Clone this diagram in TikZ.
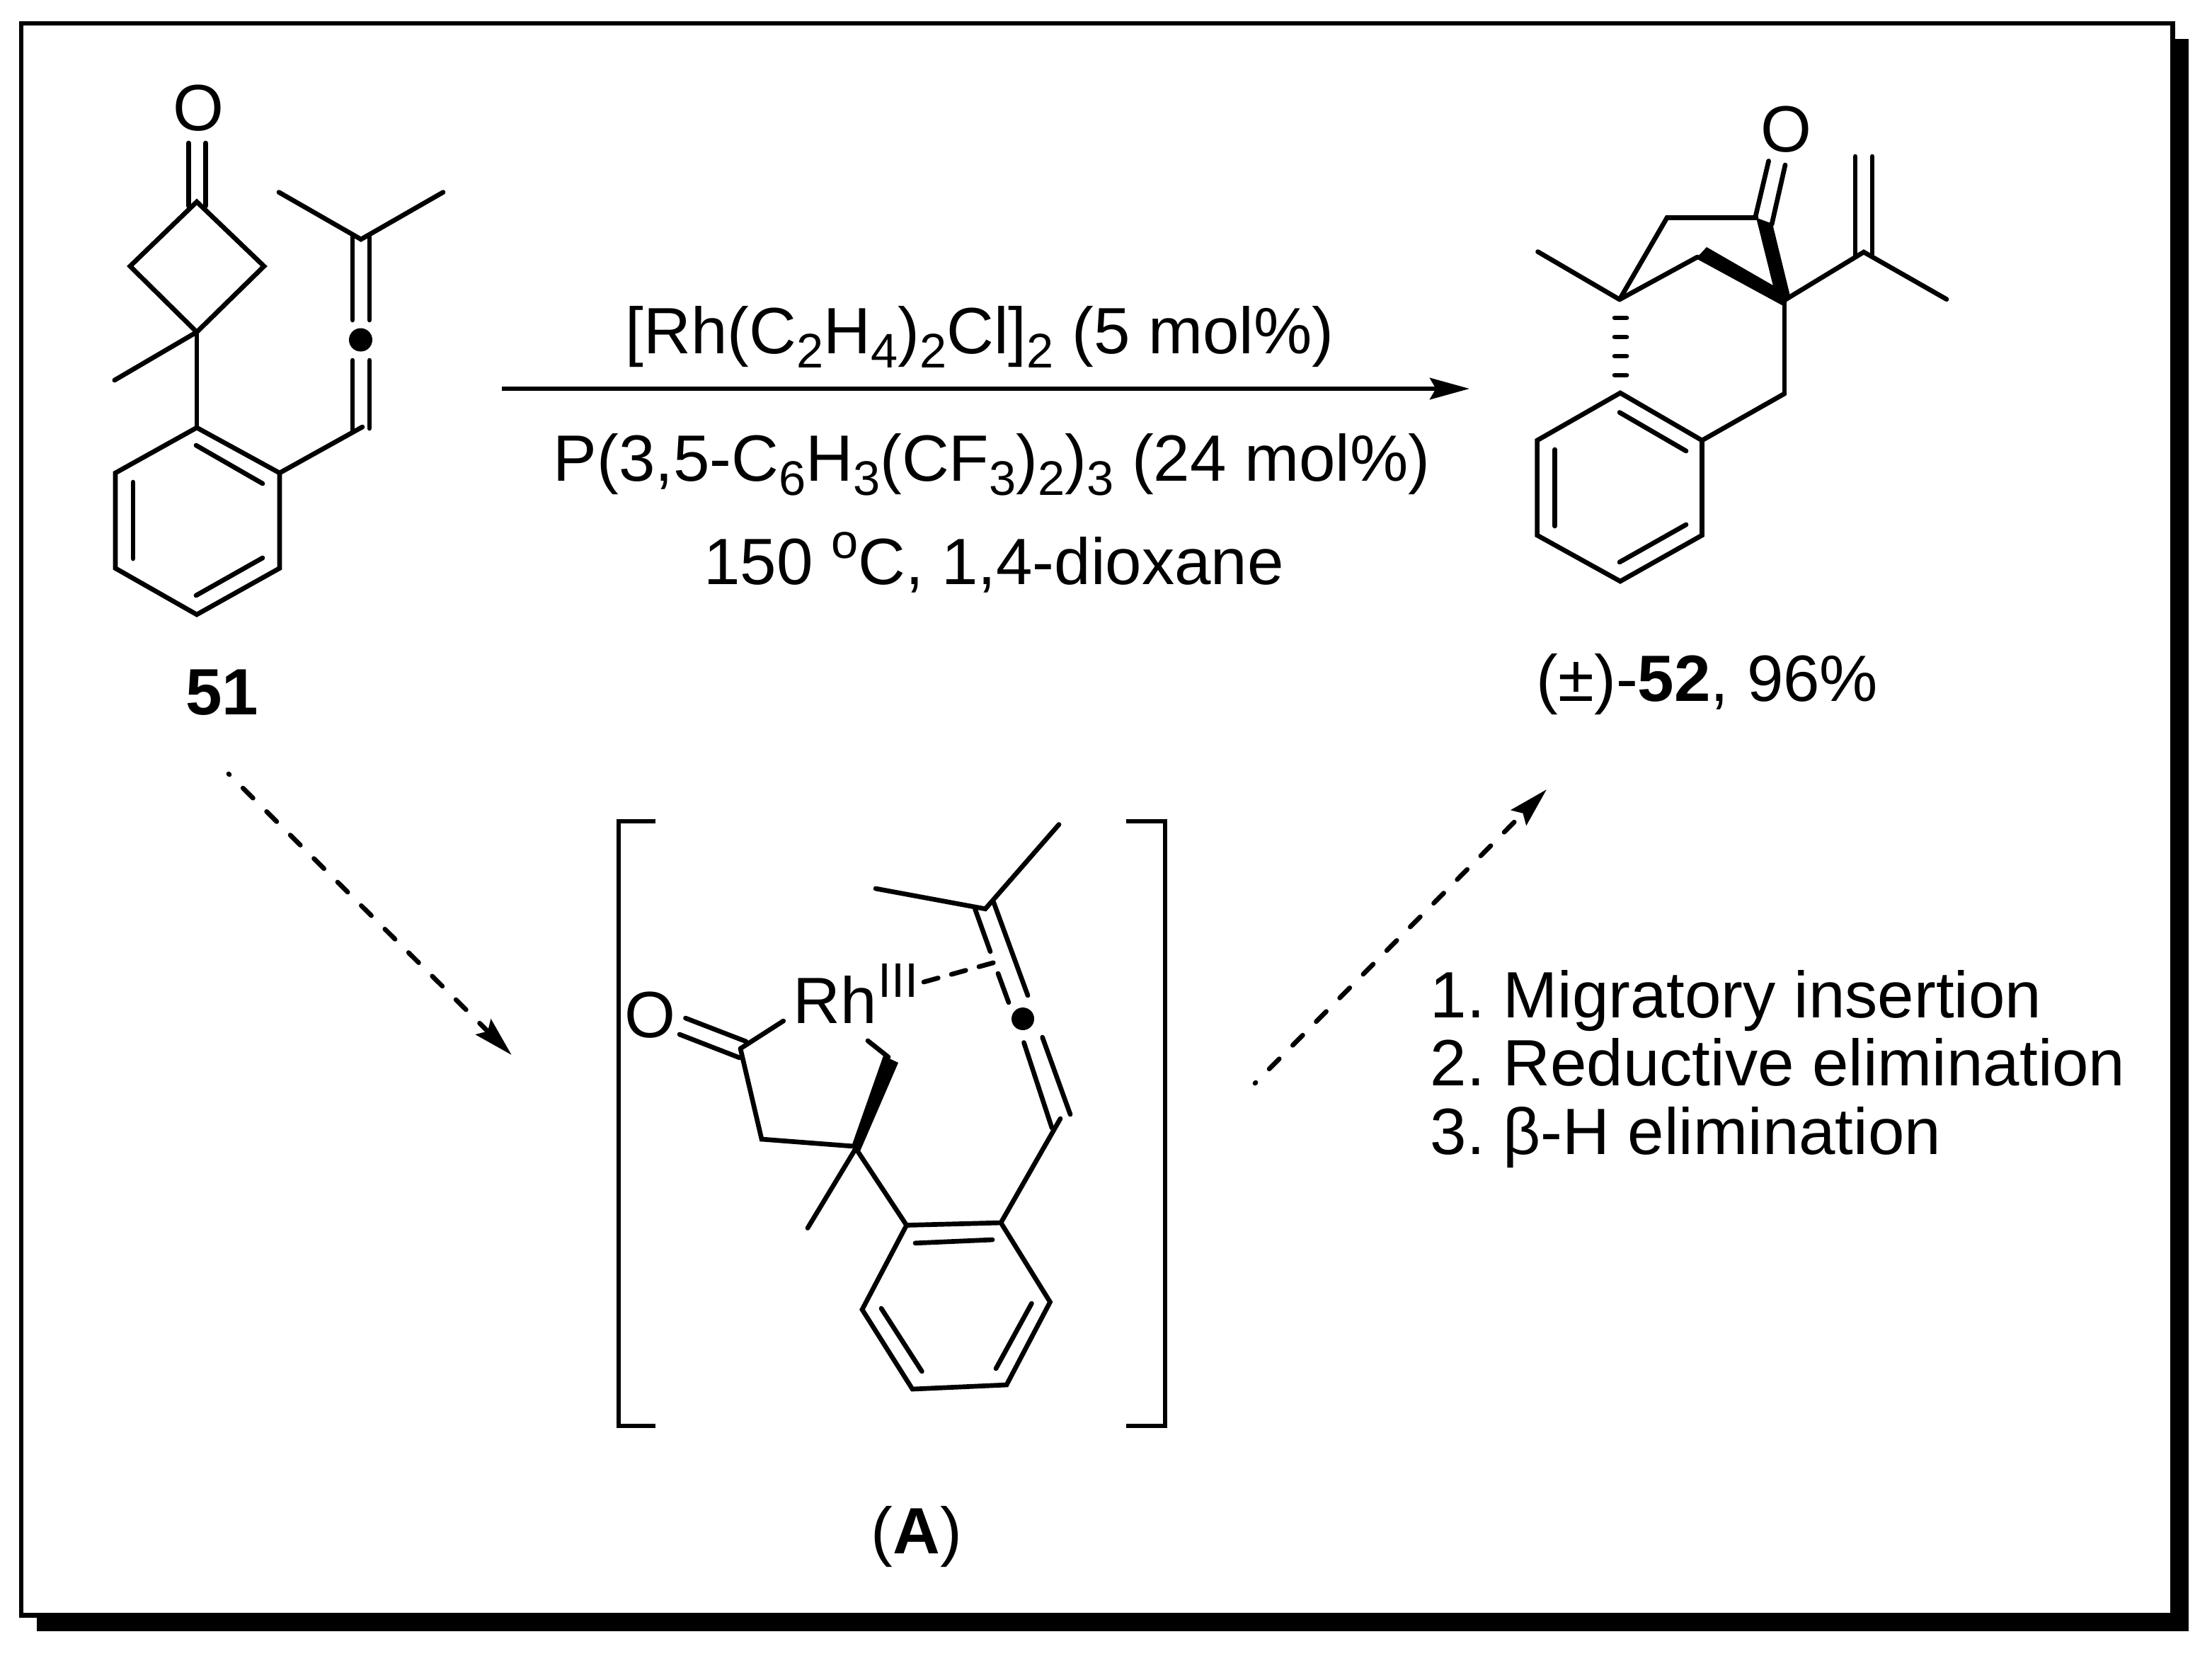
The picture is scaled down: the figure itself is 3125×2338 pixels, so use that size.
\documentclass[tikz,border=0pt]{standalone}
\usepackage{fontspec}
\setmainfont{Liberation Sans}
\usetikzlibrary{arrows.meta}
\frenchspacing

\newcommand{\lowsub}[1]{\raisebox{-5.7pt}{\fontsize{19.5}{19.5}\selectfont #1}}
\newcommand{\highsup}[1]{\raisebox{10.3pt}{\fontsize{19.5}{19.5}\selectfont #1}}

\tikzset{
  bond/.style={line width=1.9pt,line cap=round,line join=miter},
  label/.style={inner sep=0pt,anchor=base,font=\fontsize{26.3}{26.3}\selectfont},
  atom/.style={inner sep=0pt,font=\fontsize{26.3}{26.3}\selectfont},
  rxnarrow/.style={line width=1.8pt,-{Stealth[length=15.9pt,width=8.6pt,inset=2.4pt]}},
  dasharrow/.style={rxnarrow,line width=1.9pt,line cap=round,dash pattern=on 5.7pt off 7.7pt,dash phase=5.3pt},
  frameline/.style={line width=1.85pt,line join=miter}
}

\begin{document}
\begin{tikzpicture}[x=0.01cm,y=-0.01cm]
  \useasboundingbox (0,0) rectangle (3125,2338);

  % Frame
  \fill (52,2285) rectangle (3092,2304);
  \fill (3073,55) rectangle (3092,2304);
  \draw[frameline] (30,33) rectangle (3069.5,2281.5);

  % Reactant: cyclobutanone
  \coordinate (k1) at (278,285);
  \coordinate (k2) at (373,376);
  \coordinate (k3) at (278,469);
  \coordinate (k4) at (183.8,376);
  \coordinate (kme) at (161.8,537);
  \node[atom] (kO) at (280,153) {O};
  \draw[bond] (k1) -- (k2) -- (k3) -- (k4) -- cycle;
  \draw[bond] (k3) -- (kme);
  \draw[bond] (266.5,202) -- (266.5,291);
  \draw[bond] (290.5,202) -- (290.5,291);

  % Reactant: arene
  \coordinate (r1) at (278,604);
  \coordinate (r2) at (395,668);
  \coordinate (r3) at (395,802.6);
  \coordinate (r4) at (278,868);
  \coordinate (r5) at (163,802.6);
  \coordinate (r6) at (163,668);
  \draw[bond] (r1) -- (r2) -- (r3) -- (r4) -- (r5) -- (r6) -- cycle;
  \draw[bond] (k3) -- (r1);
  \draw[bond] (277,629) -- (371,683);
  \draw[bond] (277,841) -- (371,788);
  \draw[bond] (188,681) -- (188,789);

  % Reactant: allene
  \coordinate (v1) at (512,603);
  \coordinate (v2) at (510,338);
  \coordinate (vme1) at (394,271.5);
  \coordinate (vme2) at (626,271.5);
  \fill (509.5,480) circle (16.5);
  \draw[bond] (r2) -- (v1);
  \draw[bond] (vme1) -- (v2) -- (vme2);
  \draw[bond] (498,334) -- (498,452);
  \draw[bond] (522,334) -- (522,452);
  \draw[bond] (498,509) -- (498,609);
  \draw[bond] (522,509) -- (522,605);
  \node[label,font=\fontsize{26.3}{26.3}\selectfont\bfseries] (lab51) at (314,1009) {51};

  % Conditions
  \coordinate (arrowA) at (709,549);
  \coordinate (arrowB) at (2076,549);
  \draw[rxnarrow] (arrowA) -- (arrowB);
  \node[label] (cond1) at (1384,499) {[Rh(C\lowsub{2}H\lowsub{4})\lowsub{2}Cl]\lowsub{2} (5 mol\%)};
  \node[label] (cond2) at (1401,679) {P(3,5-C\lowsub{6}H\lowsub{3}(CF\lowsub{3})\lowsub{2})\lowsub{3} (24 mol\%)};
  \node[label] (cond3) at (1404,825) {150 \highsup{o}C, 1,4-dioxane};

  % Product: bicycle
  \coordinate (p1) at (2288,423);
  \coordinate (p2) at (2355,307.5);
  \coordinate (p3) at (2481,307.5);
  \coordinate (p4) at (2398,363);
  \coordinate (p5) at (2521,424);
  \coordinate (p6) at (2521,556);
  \coordinate (pme) at (2172.5,355.5);
  \node[atom] (pO) at (2523,183) {O};
  \draw[bond] (p1) -- (p2) -- (p3);
  \draw[bond] (p1) -- (p4);
  \draw[bond] (p1) -- (pme);
  \draw[bond] (p5) -- (p6);
  \fill (2396,365) -- (2411,349) -- (2529,417) -- (2521,433) -- cycle;
  \fill (p3) -- (2504,316) -- (2529,418) -- (2505,404) -- cycle;
  \draw[bond] (2498.6,227.4) -- (2480,306);
  \draw[bond] (2522,233) -- (2503,317);
  \foreach \y in {449,476,503,530}
    \draw[bond] (2281,\y) -- (2298,\y);

  % Product: isopropenyl
  \coordinate (q1) at (2633,356);
  \coordinate (qme) at (2750,422.7);
  \draw[bond] (p5) -- (q1) -- (qme);
  \draw[bond] (2621,221) -- (2621,362);
  \draw[bond] (2645,221) -- (2645,362);

  % Product: arene
  \coordinate (a1) at (2289,555);
  \coordinate (a2) at (2404.5,622);
  \coordinate (a3) at (2404.5,756);
  \coordinate (a4) at (2289,821);
  \coordinate (a5) at (2171.6,756);
  \coordinate (a6) at (2171.6,622);
  \draw[bond] (a1) -- (a2) -- (a3) -- (a4) -- (a5) -- (a6) -- cycle;
  \draw[bond] (a2) -- (p6);
  \draw[bond] (2288,582.5) -- (2382,637);
  \draw[bond] (2288,794) -- (2382,741);
  \draw[bond] (2196.7,635) -- (2196.7,743);
  \node[label,anchor=base west] (lab52) at (2170,990) {(±)-\textbf{52}, 96\%};

  % Dashed arrows
  \coordinate (dashA) at (323,1093);
  \coordinate (dashB) at (722.7,1490);
  \coordinate (dashC) at (1773,1530);
  \coordinate (dashD) at (2185,1115);
  \draw[dasharrow] (dashA) -- (dashB);
  \draw[dasharrow] (dashC) -- (dashD);

  % Steps
  \node[label,anchor=base west] (step1) at (2020,1437) {1. Migratory insertion};
  \node[label,anchor=base west] (step2) at (2020,1533) {2. Reductive elimination};
  \node[label,anchor=base west] (step3) at (2020,1630) {3. β-H elimination};

  % Brackets
  \draw[frameline,line width=1.9pt] (926,1160) -| (874,2014) -- (926,2014);
  \draw[frameline,line width=1.9pt] (1591,1160) -| (1646,2014) -- (1591,2014);

  % Intermediate: metallacycle
  \coordinate (m1) at (1046,1481);
  \coordinate (m2) at (1076,1609);
  \coordinate (m3) at (1206,1619);
  \coordinate (m4) at (1226,1470);
  \coordinate (m5) at (1255,1493);
  \coordinate (mme) at (1141,1734.5);
  \node[atom] (mO) at (918,1433.4) {O};
  \node[label,anchor=base west] (rh) at (1120,1445) {Rh\hspace{0.5pt}\highsup{III}};
  \draw[bond] (m1) -- (m2) -- (m3);
  \draw[bond] (m1) -- (1106.7,1442);
  \draw[bond] (m4) -- (m5);
  \draw[bond] (968.5,1438) -- (1054,1471);
  \draw[bond] (960,1461) -- (1045,1494);
  \fill (1203,1619) -- (1248,1491) -- (1269,1501) -- (1215,1626) -- cycle;

  % Intermediate: arene
  \coordinate (b1) at (1280.7,1730.5);
  \coordinate (b2) at (1414,1727);
  \coordinate (b3) at (1483.5,1839);
  \coordinate (b4) at (1422,1956);
  \coordinate (b5) at (1289,1962);
  \coordinate (b6) at (1218,1849.6);
  \coordinate (b0) at (1209,1622);
  \draw[bond] (b1) -- (b2) -- (b3) -- (b4) -- (b5) -- (b6) -- cycle;
  \draw[bond] (b0) -- (b1);
  \draw[bond] (b0) -- (mme);
  \draw[bond] (1293,1755.8) -- (1402,1751);
  \draw[bond] (1457.4,1841) -- (1407,1933);
  \draw[bond] (1245,1848) -- (1302.4,1937);

  % Intermediate: allene
  \coordinate (c1) at (1392,1283.7);
  \coordinate (cme1) at (1237,1255);
  \coordinate (cme2) at (1496,1164.5);
  \coordinate (c2) at (1498,1580);
  \fill (1445,1439) circle (16);
  \draw[bond] (b2) -- (c2);
  \draw[bond] (cme1) -- (c1) -- (cme2);
  \draw[bond] (1377.5,1284) -- (1399,1344);
  \draw[bond] (1410,1375) -- (1425,1416);
  \draw[bond] (1403.6,1274) -- (1452,1406);
  \draw[bond] (1446.5,1472.5) -- (1486,1593);
  \draw[bond] (1472.6,1465) -- (1512,1574);
  \draw[bond,dash pattern=on 6pt off 5.5pt] (1305,1387) -- (1412,1357.4);
  \node[label] (labA) at (1295,2194) {(\textbf{A})};
\end{tikzpicture}
\end{document}
